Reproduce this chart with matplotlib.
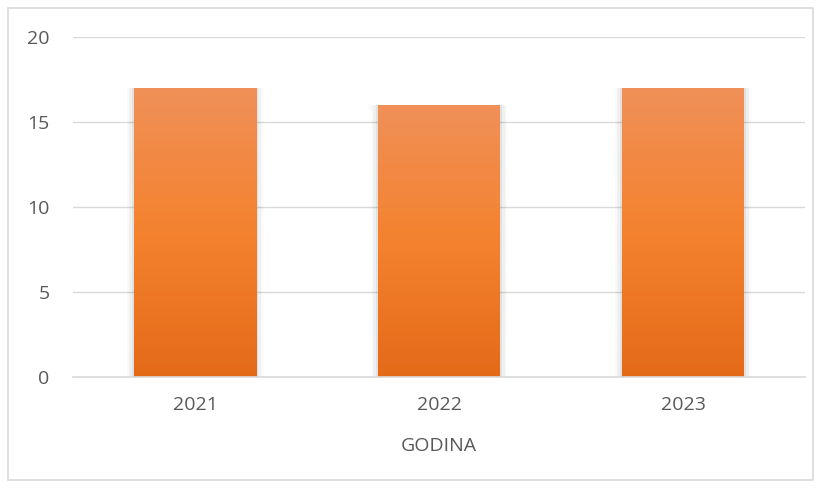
import numpy as np
import matplotlib.pyplot as plt
from matplotlib.patches import Rectangle
from matplotlib.colors import LinearSegmentedColormap

# ---- Data ------------------------------------------------------------
years = ['2021', '2022', '2023']
values = [17, 16, 17]
y_ticks = [0, 5, 10, 15, 20]
x_label = 'GODINA'

TEXT = '#595959'
GRID = '#D9D9D9'
bar_cmap = LinearSegmentedColormap.from_list(
    'orange', ['#E46A18', '#F4822E', '#F09058'])

plt.rcParams['font.family'] = ['Open Sans', 'DejaVu Sans']

fig = plt.figure(figsize=(8.21, 4.88), dpi=100)
ax = fig.add_axes([73 / 821, 111 / 488, 732 / 821, 340 / 488])

x = np.arange(len(years))
bars = ax.bar(x, values, width=0.5, color='none', zorder=3)

# gradient fill + soft shadow on each bar
grad = np.linspace(0, 1, 256).reshape(-1, 1)
for b in bars:
    x0, w, h = b.get_x(), b.get_width(), b.get_height()
    for i, a in enumerate([0.06, 0.04, 0.02]):
        d = 0.01 * (i + 1)
        ax.add_patch(Rectangle((x0 - d, -0.05 * (i + 1)), w + 2 * d, h + 0.05 * (i + 1),
                               facecolor='black', alpha=a, lw=0, zorder=2))
    im = ax.imshow(grad, extent=[x0, x0 + w, 0, h], origin='lower',
                   cmap=bar_cmap, aspect='auto', zorder=3)
    im.set_clip_path(b)

ax.set_xlim(-0.5, len(years) - 0.5)
ax.set_ylim(0, 20)
ax.set_yticks(y_ticks)
ax.set_xticks(x)
ax.set_xticklabels(years)
ax.grid(axis='y', color=GRID, lw=1, zorder=0)
ax.set_axisbelow(True)
for side in ['top', 'right', 'left']:
    ax.spines[side].set_visible(False)
ax.spines['bottom'].set_color(GRID)
ax.spines['bottom'].set_linewidth(1.2)
ax.spines['bottom'].set_zorder(4)
ax.tick_params(axis='both', length=0, labelsize=14, colors=TEXT)
ax.tick_params(axis='x', pad=14)
ax.tick_params(axis='y', pad=17)
ax.set_xlabel(x_label, fontsize=14, color=TEXT, labelpad=16)

# chart border
fig.add_artist(Rectangle((8 / 821, 8 / 488), 805 / 821, 472 / 488,
                         transform=fig.transFigure, fill=False,
                         edgecolor=GRID, lw=1.2))

fig.savefig('out.png', dpi=100)
